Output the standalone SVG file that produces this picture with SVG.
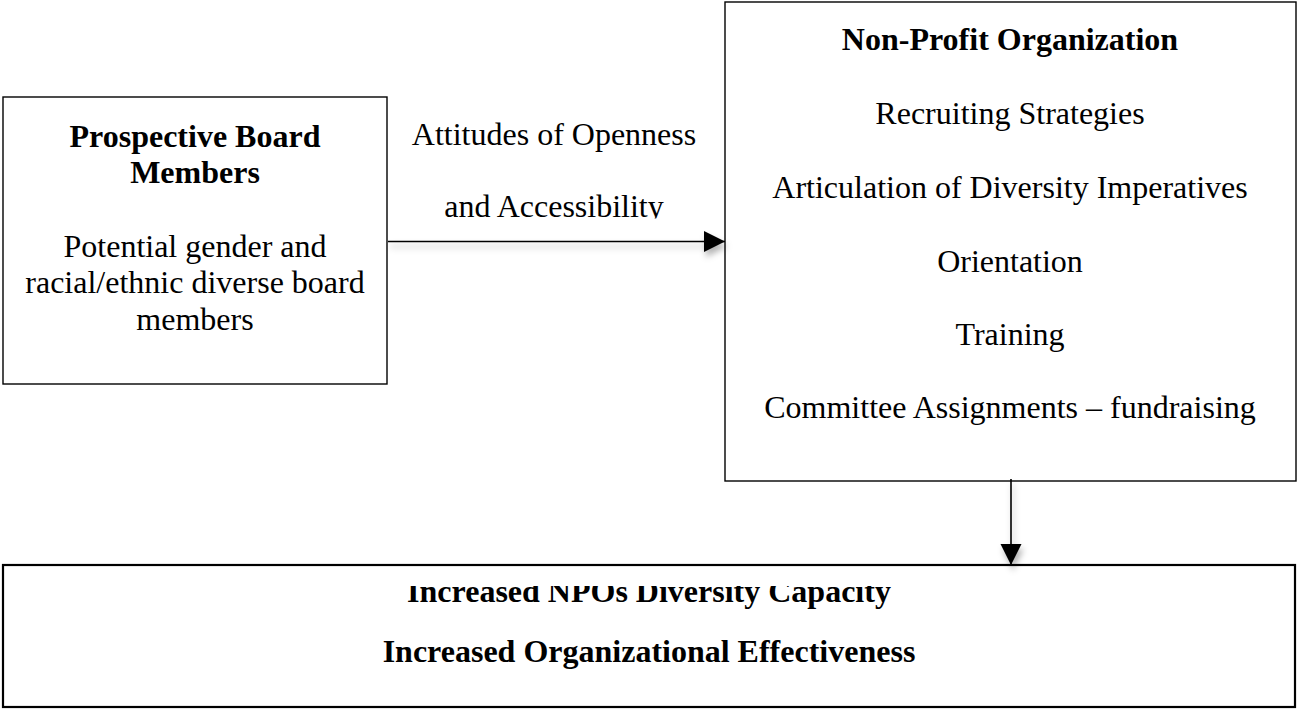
<svg xmlns="http://www.w3.org/2000/svg" width="1297" height="709" viewBox="0 0 1297 709">
<style>
  .box { fill: #ffffff; stroke: #000000; stroke-width: 1.4; }
  .thick { stroke-width: 2.2; }
  .t { font-family: "Liberation Serif", "Times New Roman", serif; font-size: 32px; fill: #000000; text-anchor: middle; }
  .b { font-weight: bold; }
  .conn { stroke: #000000; stroke-width: 1.6; fill: none; }
</style>
<defs>
  <marker id="arrow" markerUnits="userSpaceOnUse" markerWidth="22" markerHeight="22" refX="21" refY="10.5" orient="auto" viewBox="0 0 22 22">
    <path d="M0,0 L21,10.5 L0,21 Z" fill="#000000"/>
  </marker>
  <filter id="shadow" filterUnits="userSpaceOnUse" x="0" y="0" width="1297" height="709">
    <feDropShadow dx="2" dy="5" stdDeviation="3" flood-color="#000000" flood-opacity="0.3"/>
  </filter>
  <clipPath id="clipLabel">
    <rect x="387" y="100" width="338" height="118.5"/>
  </clipPath>
  <clipPath id="clipBottom">
    <rect x="3" y="586" width="1292" height="120"/>
  </clipPath>
</defs>

<g id="node-prospective">
  <rect class="box" x="3" y="97" width="384" height="287"/>
  <text class="t b" x="195" y="147">Prospective Board</text>
  <text class="t b" x="195" y="183">Members</text>
  <text class="t" x="195" y="257">Potential gender and</text>
  <text class="t" x="195" y="293">racial/ethnic diverse board</text>
  <text class="t" x="195" y="330">members</text>
</g>

<g id="node-npo">
  <rect class="box" x="725" y="2" width="571" height="479"/>
  <text class="t b" x="1010" y="50">Non-Profit Organization</text>
  <text class="t" x="1010" y="124">Recruiting Strategies</text>
  <text class="t" x="1010" y="198">Articulation of Diversity Imperatives</text>
  <text class="t" x="1010" y="272">Orientation</text>
  <text class="t" x="1010" y="345">Training</text>
  <text class="t" x="1010" y="418">Committee Assignments – fundraising</text>
</g>

<g id="node-outcomes">
  <rect class="box thick" x="3" y="565" width="1292" height="142"/>
  <g clip-path="url(#clipBottom)">
    <text class="t b" x="649" y="602">Increased NPOs Diversity Capacity</text>
  </g>
  <text class="t b" x="649" y="662">Increased Organizational Effectiveness</text>
</g>

<g id="connectors">
  <g id="edge-label" clip-path="url(#clipLabel)">
    <text class="t" x="554" y="145">Attitudes of Openness</text>
    <text class="t" x="554" y="217">and Accessibility</text>
  </g>
  <g filter="url(#shadow)">
    <line class="conn" x1="388" y1="241.5" x2="725" y2="241.5" marker-end="url(#arrow)"/>
    <line class="conn" x1="1011" y1="479" x2="1011" y2="565" marker-end="url(#arrow)"/>
  </g>
</g>
</svg>
